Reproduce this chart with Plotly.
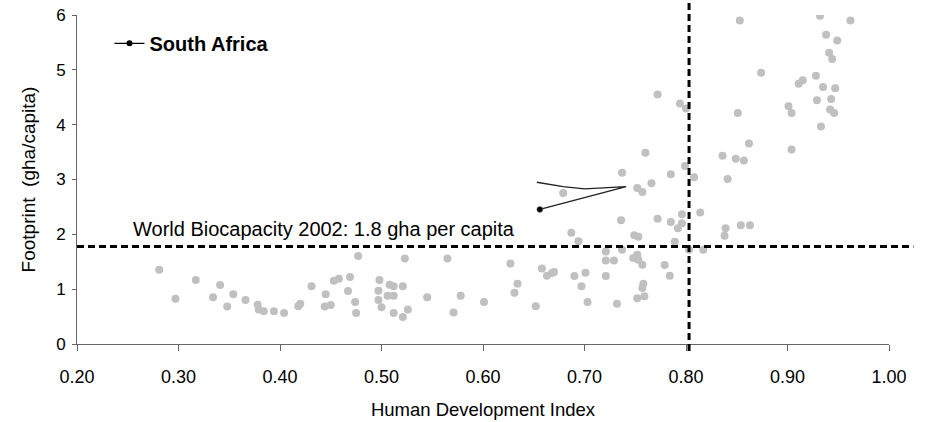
import plotly.graph_objects as go

# Country data: Human Development Index vs Ecological Footprint (gha/capita)
hdi = [0.281, 0.297, 0.317, 0.334, 0.341, 0.348, 0.354, 0.366, 0.378, 0.379,
       0.384, 0.394, 0.404, 0.418, 0.420, 0.431, 0.444, 0.445, 0.450, 0.453,
       0.458, 0.469, 0.467, 0.474, 0.475, 0.477, 0.498, 0.497, 0.497, 0.500,
       0.508, 0.512, 0.506, 0.512, 0.521, 0.512, 0.521, 0.526, 0.523, 0.545,
       0.565, 0.571, 0.578, 0.601, 0.627, 0.634, 0.631, 0.652, 0.658, 0.663,
       0.668, 0.670, 0.679, 0.687, 0.694, 0.690, 0.697, 0.701, 0.703, 0.721,
       0.721, 0.729, 0.721, 0.732, 0.737, 0.736, 0.737, 0.749, 0.753, 0.752,
       0.757, 0.748, 0.752, 0.753, 0.757, 0.757, 0.758, 0.752, 0.759,
       0.766, 0.785, 0.808, 0.841, 0.772, 0.785, 0.792, 0.796, 0.796, 0.814,
       0.789, 0.803, 0.817, 0.839, 0.838, 0.854, 0.863, 0.779, 0.784,
       0.772, 0.794, 0.800, 0.760, 0.799, 0.853, 0.874, 0.851, 0.862, 0.836,
       0.849, 0.857, 0.904, 0.901, 0.904, 0.911, 0.915, 0.928, 0.935, 0.947,
       0.929, 0.943, 0.942, 0.946, 0.933, 0.932, 0.962, 0.938, 0.949, 0.941,
       0.944]
footprint = [1.355, 0.827, 1.167, 0.851, 1.076, 0.682, 0.906, 0.803, 0.718, 0.627,
             0.597, 0.597, 0.567, 0.688, 0.736, 1.051, 0.682, 0.906, 0.712, 1.155,
             1.191, 1.222, 0.967, 0.767, 0.567, 1.604, 1.167, 0.973, 0.803, 0.670,
             1.082, 1.051, 0.882, 0.882, 1.051, 0.567, 0.494, 0.627, 1.560, 0.851,
             1.560, 0.573, 0.882, 0.767, 1.469, 1.100, 0.936, 0.688, 1.378, 1.245,
             1.294, 1.312, 2.755, 2.027, 1.876, 1.240, 1.051, 1.300, 0.767, 1.687,
             1.524, 1.524, 1.240, 0.736, 1.718, 2.258, 3.124, 1.985, 1.955, 2.845,
             2.773, 1.567, 1.627, 1.536, 1.445, 1.021, 1.100, 0.833, 0.870,
             2.930, 3.094, 3.040, 3.009, 2.282, 2.227, 2.112, 2.203, 2.367, 2.397,
             1.864, 1.718, 1.718, 2.112, 1.973, 2.167, 2.167, 1.440, 1.245,
             4.549, 4.385, 4.294, 3.487, 3.245, 5.900, 4.948, 4.215, 3.658, 3.433,
             3.378, 3.348, 3.548, 4.336, 4.215, 4.748, 4.809, 4.894, 4.688, 4.664,
             4.445, 4.469, 4.276, 4.215, 3.967, 5.985, 5.900, 5.640, 5.536, 5.312,
             5.197]

# South Africa trajectory (last point highlighted)
sa_hdi = [0.653, 0.679, 0.700, 0.741, 0.656]
sa_footprint = [2.95, 2.87, 2.83, 2.87, 2.455]

world_biocapacity = 1.78
hdi_threshold = 0.803

x_ticks = [0.2, 0.3, 0.4, 0.5, 0.6, 0.7, 0.8, 0.9, 1.0]
y_ticks = [0, 1, 2, 3, 4, 5, 6]

FONT = "Liberation Sans, Arial, sans-serif"

fig = go.Figure()

fig.add_trace(go.Scatter(
    x=hdi, y=footprint, mode="markers",
    marker=dict(color="#C0C0C0", size=8, line=dict(width=0)),
    showlegend=False, hoverinfo="x+y"))

fig.add_trace(go.Scatter(
    x=sa_hdi, y=sa_footprint, mode="lines",
    line=dict(color="#222222", width=1.3),
    showlegend=False))

fig.add_trace(go.Scatter(
    x=sa_hdi[-1:], y=sa_footprint[-1:], mode="markers",
    marker=dict(color="black", size=6, line=dict(color="#888", width=0.5)),
    showlegend=False))

# legend-only entry
fig.add_trace(go.Scatter(
    x=[None], y=[None], mode="lines+markers", name="South Africa",
    line=dict(color="black", width=1.3),
    marker=dict(color="black", size=6)))

# reference lines
fig.add_shape(type="line", xref="paper", yref="y",
              x0=0, x1=1.03, y0=world_biocapacity, y1=world_biocapacity,
              line=dict(color="black", width=3, dash="7px,4px"))
fig.add_shape(type="line", xref="x", yref="paper",
              x0=hdi_threshold, x1=hdi_threshold, y0=-0.021, y1=1.045,
              line=dict(color="black", width=3, dash="7px,4px"))

fig.add_annotation(x=0.2536, y=2.095, xref="x", yref="y",
                   text="World Biocapacity 2002: 1.8 gha per capita",
                   showarrow=False, xanchor="left", yanchor="middle",
                   font=dict(family=FONT, size=20, color="black"))

fig.update_layout(
    width=926, height=422,
    margin=dict(l=77, r=37, t=15, b=78),
    paper_bgcolor="white", plot_bgcolor="white",
    font=dict(family=FONT, color="black"),
    legend=dict(x=0.040, y=0.914, xanchor="left", yanchor="middle",
                bgcolor="rgba(0,0,0,0)",
                font=dict(family=FONT, size=20, color="black", weight="bold")),
    xaxis=dict(range=[0.2, 1.0], tickvals=x_ticks, tickformat=".2f",
               automargin=False,
               showgrid=False, zeroline=False, showline=True,
               linecolor="#666", linewidth=1, ticks="outside", ticklen=6,
               tickcolor="#666", tickfont=dict(size=18), ticklabelstandoff=10,
               title=dict(text="Human Development Index", font=dict(size=18.5), standoff=17)),
    yaxis=dict(range=[0, 6], tickvals=y_ticks,
               automargin=False,
               showgrid=False, zeroline=False, showline=True,
               linecolor="#666", linewidth=1, ticks="outside", ticklen=4,
               tickcolor="#666", tickfont=dict(size=17), ticklabelstandoff=3,
               title=dict(text="Footprint\u00a0 (gha/capita)", font=dict(size=19), standoff=15)),
)

fig.write_html("out.html", config={"displayModeBar": False},
               post_script="document.body.style.margin='0px';")
